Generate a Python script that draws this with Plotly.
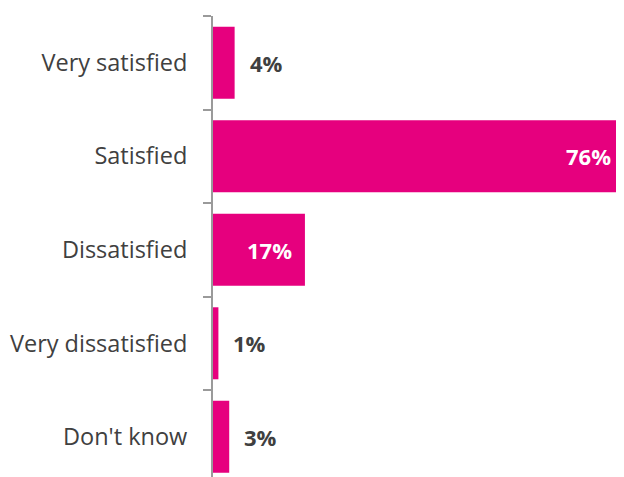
import plotly.graph_objects as go

categories = ["Very satisfied", "Satisfied", "Dissatisfied", "Very dissatisfied", "Don't know"]
values = [4, 76, 17, 1, 3]
labels = ["4%", "76%", "17%", "1%", "3%"]
inside = [False, True, True, False, False]

BAR = "#E6007E"
TXT = "#404040"
FONT = "Open Sans"

fig = go.Figure(go.Bar(
    x=values, y=categories, orientation="h",
    marker=dict(color=BAR, line=dict(width=0)),
    width=0.77, hoverinfo="skip",
))

for c, v, t, ins in zip(categories, values, labels, inside):
    fig.add_annotation(
        x=v, y=c, text=f"<b>{t}</b>", showarrow=False,
        xanchor="right" if ins else "left",
        xshift=-11 if ins else 13,
        font=dict(family=FONT, size=22, color="white" if ins else TXT),
    )

fig.update_layout(
    width=616, height=469,
    margin=dict(l=205, r=0, t=8, b=0),
    paper_bgcolor="white", plot_bgcolor="white",
    showlegend=False,
    font=dict(family=FONT, color=TXT),
)
fig.update_xaxes(range=[0, 76], visible=False, showgrid=False, zeroline=False)
fig.update_yaxes(
    categoryorder="array", categoryarray=categories,
    range=[4.43, -0.5], autorange=False,
    showline=True, linecolor="#9a9a9a", linewidth=2,
    ticks="outside", tickson="boundaries", ticklen=8, tickwidth=2, tickcolor="#9a9a9a",
    ticklabelstandoff=19,
    tickfont=dict(family=FONT, size=23.5, color=TXT),
    showgrid=False, zeroline=False,
)

fig.write_html("out.html")
